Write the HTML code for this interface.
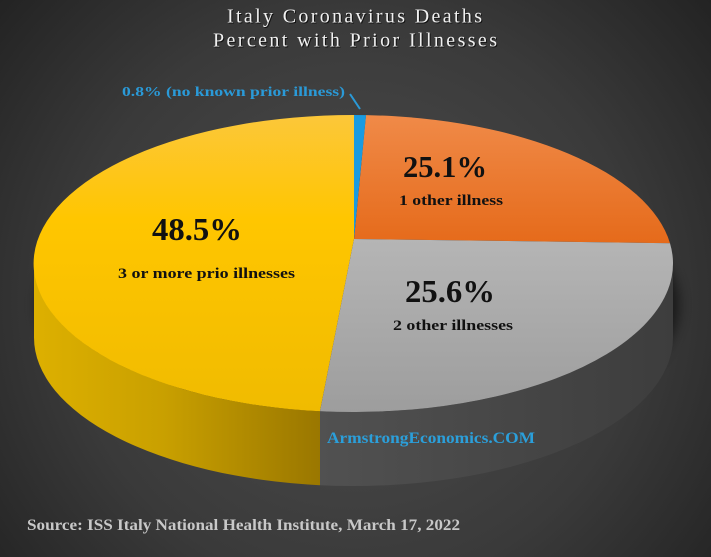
<!DOCTYPE html>
<html>
<head>
<meta charset="utf-8">
<style>
  html, body { margin: 0; padding: 0; background: #2a2a2a; }
  svg { display: block; }
  text { font-family: "Liberation Serif", serif; }
</style>
</head>
<body>
<svg width="711" height="557" viewBox="0 0 711 557" xmlns="http://www.w3.org/2000/svg">
  <defs>
    <radialGradient id="bg" gradientUnits="userSpaceOnUse" cx="355" cy="300" r="520">
      <stop offset="0" stop-color="#4e4e4e"/>
      <stop offset="0.55" stop-color="#3a3a3a"/>
      <stop offset="1" stop-color="#1c1c1c"/>
    </radialGradient>
    <linearGradient id="gy" x1="0" y1="115" x2="0" y2="412" gradientUnits="userSpaceOnUse">
      <stop offset="0" stop-color="#fcc73a"/>
      <stop offset="0.35" stop-color="#ffc600"/>
      <stop offset="1" stop-color="#f0bb00"/>
    </linearGradient>
    <linearGradient id="go" x1="0" y1="115" x2="0" y2="245" gradientUnits="userSpaceOnUse">
      <stop offset="0" stop-color="#f08a48"/>
      <stop offset="1" stop-color="#e56a1a"/>
    </linearGradient>
    <linearGradient id="gg" x1="0" y1="240" x2="0" y2="412" gradientUnits="userSpaceOnUse">
      <stop offset="0" stop-color="#b5b5b5"/>
      <stop offset="1" stop-color="#9d9d9d"/>
    </linearGradient>
    <linearGradient id="sy" x1="34" y1="0" x2="320" y2="0" gradientUnits="userSpaceOnUse">
      <stop offset="0" stop-color="#ddb000"/>
      <stop offset="0.45" stop-color="#c9a000"/>
      <stop offset="1" stop-color="#9a7700"/>
    </linearGradient>
    <linearGradient id="sg" x1="320" y1="0" x2="673" y2="0" gradientUnits="userSpaceOnUse">
      <stop offset="0" stop-color="#515151"/>
      <stop offset="1" stop-color="#3d3d3d"/>
    </linearGradient>
    <filter id="blur" x="-20%" y="-20%" width="140%" height="140%">
      <feGaussianBlur stdDeviation="6"/>
    </filter>
  </defs>

  <rect x="0" y="0" width="711" height="557" fill="url(#bg)"/>

  <!-- shadow -->
  <ellipse cx="358" cy="305" rx="321" ry="150" fill="#000" opacity="0.55" filter="url(#blur)"/>

  <!-- side walls -->
  <path d="M 34 263.5 A 319.5 148.5 0 0 0 320 411.2 L 320 485.2 A 319.5 148.5 0 0 1 34 337.5 Z" fill="url(#sy)"/>
  <path d="M 320 411.2 A 319.5 148.5 0 0 0 673 263.5 L 673 337.5 A 319.5 148.5 0 0 1 320 485.2 Z" fill="url(#sg)"/>

  <!-- top faces -->
  <path d="M 354 239 L 320 411.2 A 319.5 148.5 0 0 1 354 115 Z" fill="url(#gy)"/>
  <path d="M 354 239 L 366 115.1 A 319.5 148.5 0 0 1 670 243.2 Z" fill="url(#go)"/>
  <path d="M 354 239 L 670 243.2 A 319.5 148.5 0 0 1 320 411.2 Z" fill="url(#gg)"/>
  <path d="M 354 239 L 354 115 A 319.5 148.5 0 0 1 366 115.1 Z" fill="#1a9be0"/>

  <!-- title -->
  <g font-size="20">
    <text x="228" y="23.5" textLength="255" lengthAdjust="spacing" fill="#111">Italy Coronavirus Deaths</text>
    <text x="227" y="22.5" textLength="255" lengthAdjust="spacing" fill="#f0f0f0">Italy Coronavirus Deaths</text>
    <text x="214" y="47.5" textLength="284" lengthAdjust="spacing" fill="#111">Percent with Prior Illnesses</text>
    <text x="213" y="46.5" textLength="284" lengthAdjust="spacing" fill="#f0f0f0">Percent with Prior Illnesses</text>
  </g>

  <!-- blue label -->
  <text x="122" y="96" font-size="14" font-weight="bold" fill="#2a9ad8" textLength="223" lengthAdjust="spacingAndGlyphs">0.8% (no known prior illness)</text>
  <line x1="350" y1="94" x2="360" y2="109" stroke="#2a9ad8" stroke-width="2"/>

  <!-- slice labels -->
  <g font-weight="bold" fill="#111">
    <text x="403" y="177" font-size="31" textLength="84" lengthAdjust="spacingAndGlyphs">25.1%</text>
    <text x="399" y="205" font-size="15" textLength="104" lengthAdjust="spacingAndGlyphs">1 other illness</text>
    <text x="152" y="240" font-size="32" textLength="90" lengthAdjust="spacingAndGlyphs">48.5%</text>
    <text x="118" y="278" font-size="15" textLength="177" lengthAdjust="spacingAndGlyphs">3 or more prio illnesses</text>
    <text x="405" y="302" font-size="32" textLength="90" lengthAdjust="spacingAndGlyphs">25.6%</text>
    <text x="393" y="330" font-size="15" textLength="120" lengthAdjust="spacingAndGlyphs">2 other illnesses</text>
  </g>

  <text x="327" y="443" font-size="16" font-weight="bold" fill="#2b9fda" textLength="208" lengthAdjust="spacingAndGlyphs">ArmstrongEconomics.COM</text>

  <text x="27" y="530" font-size="16" font-weight="bold" fill="#c8c8c8" textLength="433" lengthAdjust="spacingAndGlyphs">Source: ISS Italy National Health Institute, March 17, 2022</text>
</svg>
</body>
</html>
